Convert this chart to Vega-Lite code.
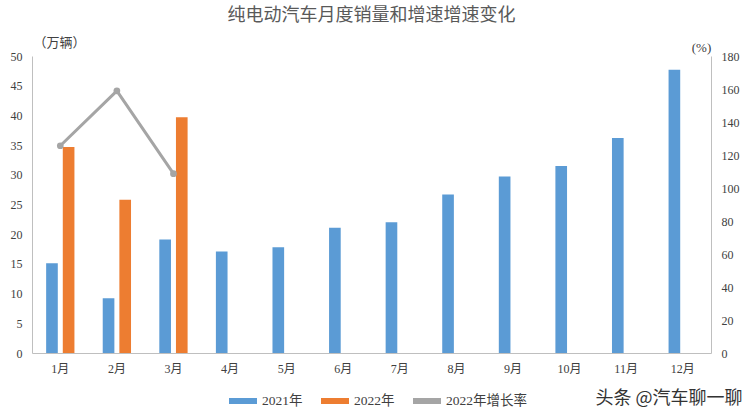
{
  "$schema": "https://vega.github.io/schema/vega-lite/v6.json",
  "width": 679,
  "height": 297,
  "autosize": "none",
  "padding": {"left": 32, "top": 56, "right": 39, "bottom": 64},
  "background": "white",
  "config": {
    "view": {"stroke": null},
    "font": "Liberation Serif, Noto Sans CJK SC",
    "axis": {"labelFont": "Liberation Serif, Noto Sans CJK SC", "labelFontSize": 12, "labelColor": "#404040", "domainColor": "#bfbfbf", "ticks": false, "grid": false}
  },
  "title": {
    "text": "纯电动汽车月度销量和增速增速变化",
    "font": "Noto Sans CJK SC",
    "fontSize": 18,
    "fontWeight": "normal",
    "color": "#595959",
    "anchor": "middle",
    "offset": 11
  },
  "datasets": {
    "sales": [
      {"month": "1月", "series": "2021年", "value": 15.1},
      {"month": "2月", "series": "2021年", "value": 9.2},
      {"month": "3月", "series": "2021年", "value": 19.1},
      {"month": "4月", "series": "2021年", "value": 17.1},
      {"month": "5月", "series": "2021年", "value": 17.8},
      {"month": "6月", "series": "2021年", "value": 21.1},
      {"month": "7月", "series": "2021年", "value": 22.0},
      {"month": "8月", "series": "2021年", "value": 26.7},
      {"month": "9月", "series": "2021年", "value": 29.7},
      {"month": "10月", "series": "2021年", "value": 31.5},
      {"month": "11月", "series": "2021年", "value": 36.2},
      {"month": "12月", "series": "2021年", "value": 47.7},
      {"month": "1月", "series": "2022年", "value": 34.7},
      {"month": "2月", "series": "2022年", "value": 25.8},
      {"month": "3月", "series": "2022年", "value": 39.7}
    ],
    "growth": [
      {"month": "1月", "series": "2022年增长率", "rate": 125.6},
      {"month": "2月", "series": "2022年增长率", "rate": 158.9},
      {"month": "3月", "series": "2022年增长率", "rate": 108.7}
    ]
  },
  "layer": [
    {
      "data": {"name": "sales"},
      "mark": {"type": "bar"},
      "encoding": {
        "x": {
          "field": "month", "type": "nominal",
          "sort": ["1月","2月","3月","4月","5月","6月","7月","8月","9月","10月","11月","12月"],
          "scale": {"paddingInner": 0.5, "paddingOuter": 0.25},
          "axis": {
            "labelAngle": 0, "labelPadding": 10,
            "title": "头条 @汽车聊一聊",
            "titleFont": "Noto Sans CJK SC", "titleFontSize": 18, "titleFontWeight": "normal", "titleColor": "#333333",
            "titleAnchor": "end", "titleAlign": "right", "titleX": 710, "titleY": 45, "titleBaseline": "middle"
          }
        },
        "xOffset": {"field": "series", "type": "nominal", "scale": {"paddingInner": 0.3, "paddingOuter": 0}},
        "y": {
          "field": "value", "type": "quantitative",
          "scale": {"domain": [0, 50], "nice": false},
          "axis": {
            "values": [0,5,10,15,20,25,30,35,40,45,50],
            "labelPadding": 10,
            "title": "（万辆）", "titleAngle": 0, "titleFont": "Noto Sans CJK SC", "titleFontSize": 13, "titleFontWeight": "normal", "titleColor": "#404040",
            "titleX": 27, "titleY": -14, "titleAlign": "center", "titleBaseline": "middle"
          }
        },
        "color": {
          "field": "series", "type": "nominal",
          "scale": {"domain": ["2021年","2022年","2022年增长率"], "range": ["#5B9BD5","#ED7D31","#A5A5A5"]},
          "legend": {
            "title": null, "orient": "none", "direction": "horizontal",
            "legendX": 194, "legendY": 328,
            "gridAlign": "none",
            "symbolType": "stroke", "symbolSize": 784, "symbolStrokeWidth": 6,
            "labelFont": "Liberation Serif, Noto Sans CJK SC", "labelFontSize": 13.5, "labelColor": "#404040", "labelOffset": 2, "labelBaseline": "middle",
            "columnPadding": 6,
            "encode": {"symbols": {"update": {"stroke": {"signal": "scale('color', datum.value)"}}}}
          }
        }
      }
    },
    {
      "data": {"name": "growth"},
      "mark": {"type": "line", "strokeWidth": 3, "point": {"filled": true, "size": 45}},
      "encoding": {
        "x": {"field": "month", "type": "nominal", "sort": ["1月","2月","3月","4月","5月","6月","7月","8月","9月","10月","11月","12月"]},
        "y": {
          "field": "rate", "type": "quantitative",
          "scale": {"domain": [0, 180], "nice": false},
          "axis": {
            "orient": "right",
            "values": [0,20,40,60,80,100,120,140,160,180],
            "labelPadding": 10,
            "title": "(%)", "titleAngle": 0, "titleFont": "Liberation Serif, Noto Sans CJK SC", "titleFontSize": 13, "titleFontWeight": "normal", "titleColor": "#404040",
            "titleX": -10, "titleY": -9, "titleAlign": "center", "titleBaseline": "middle"
          }
        },
        "color": {"field": "series", "type": "nominal"}
      }
    }
  ],
  "resolve": {"scale": {"y": "independent"}}
}
